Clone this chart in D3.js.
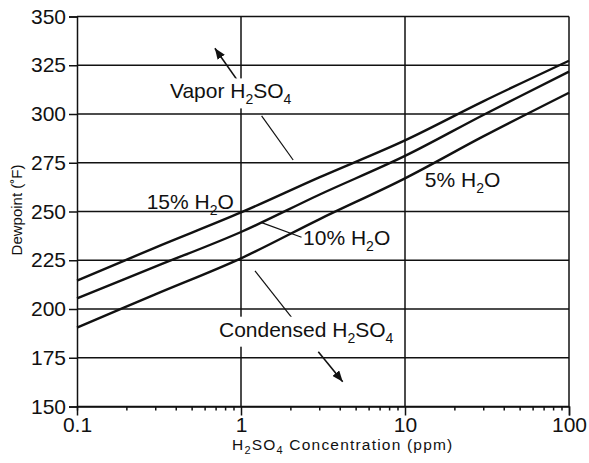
<!DOCTYPE html>
<html lang="en">
<head>
<meta charset="utf-8">
<title>Dewpoint vs H2SO4 concentration</title>
<script src="https://d3js.org/d3.v7.min.js"></script>
<style>
	body { margin: 0; background: #fff; }
	text { font-family: "Liberation Sans", Arial, sans-serif; fill: #111; }
</style>
</head>
<body>
<chart></chart>
<script>
// H2SO4 concentration (ppm) and dewpoint (F) for each water content
const concentration = [0.1, 0.3, 1, 3, 10, 30, 100];
const water15 = [214.5, 231.5, 249.5, 267.5, 286.5, 306.5, 327.3];
const water10 = [205.4, 221.7, 239.5, 258.6, 278.5, 299.5, 321.7];
const water5 = [190.4, 207.5, 226, 246, 267, 288.5, 310.9];

const xTicks = [0.1, 1, 10, 100];
const yTicks = [150, 175, 200, 225, 250, 275, 300, 325, 350];
const xGrid = [1, 10];

// annotation text, [piece, isSubscript], anchored at data coords (start, baseline)
const labels = [
	{ parts: [["Vapor H", 0], ["2", 1], ["SO", 0], ["4", 1]], at: [0.369, 308], bg: true },
	{ parts: [["15% H", 0], ["2", 1], ["O", 0]], at: [0.266, 251.1], bg: false },
	{ parts: [["10% H", 0], ["2", 1], ["O", 0]], at: [2.39, 232.8], bg: false },
	{ parts: [["5% H", 0], ["2", 1], ["O", 0]], at: [13.2, 262.7], bg: false },
	{ parts: [["Condensed H", 0], ["2", 1], ["SO", 0], ["4", 1]], at: [0.734, 185.8], bg: true }
];
const leaders = [
	[[1.336, 299], [2.08, 276.4]],
	[[1.336, 244.3], [2.34, 236.8]],
	[[1.217, 219.6], [2.08, 194.7]]
];
const arrows = [
	[[0.963, 316.6], [0.693, 333.7]],
	[[2.96, 178.1], [4.17, 162.7]]
];

var W = 589, H = 463;
var margin = { top: 16.5, right: 20, bottom: 56.5, left: 77 },
	width = W - margin.left - margin.right,
	height = H - margin.top - margin.bottom;

var svg = d3.select("chart").append("svg")
	.attr("width", W).attr("height", H)
	.style("display", "block");

svg.append("defs").append("marker")
	.attr("id", "head")
	.attr("viewBox", "0 0 10 8")
	.attr("refX", 10).attr("refY", 4)
	.attr("markerWidth", 11).attr("markerHeight", 9)
	.attr("markerUnits", "userSpaceOnUse")
	.attr("orient", "auto")
	.append("path").attr("d", "M0,0L10,4L0,8z").attr("fill", "#111");

var g = svg.append("g").attr("transform", "translate(" + margin.left + "," + margin.top + ")");

var x = d3.scaleLog().domain([0.1, 100]).range([0, width]);
var y = d3.scaleLinear().domain([150, 350]).range([height, 0]);

// grid
g.append("g").selectAll("line").data(yTicks).join("line")
	.attr("x1", 0).attr("x2", width)
	.attr("y1", d => y(d)).attr("y2", d => y(d))
	.attr("stroke", "#111").attr("stroke-width", 1.5);
g.append("g").selectAll("line").data(xGrid.concat([100])).join("line")
	.attr("x1", d => x(d)).attr("x2", d => x(d))
	.attr("y1", 0).attr("y2", height)
	.attr("stroke", "#111").attr("stroke-width", 1.5);

// axes
var yAxis = g.append("g")
	.call(d3.axisLeft(y).tickValues(yTicks).tickSize(8).tickPadding(3));
var xAxis = g.append("g").attr("transform", "translate(0," + height + ")")
	.call(d3.axisBottom(x).tickValues(xTicks).tickSize(9).tickPadding(2).tickFormat(d3.format("~g")));

var minor = [];
[0.1, 1, 10].forEach(function (d) { for (var k = 2; k < 10; k++) minor.push(d * k); });
g.append("g").attr("transform", "translate(0," + height + ")")
	.call(d3.axisBottom(x).tickValues(minor).tickSize(4).tickFormat(""))
	.call(a => a.select(".domain").remove());

g.selectAll(".domain").attr("stroke", "#111").attr("stroke-width", 1.5);
g.selectAll(".tick line").attr("stroke", "#111").attr("stroke-width", 1.5);
g.selectAll(".tick text").attr("font-size", 21).attr("font-family", "Liberation Sans, Arial, sans-serif").attr("fill", "#111");
xAxis.selectAll(".tick:first-of-type line").attr("y2", 4);

// curves
var line = d3.line()
	.x((d, i) => x(concentration[i]))
	.y(d => y(d))
	.curve(d3.curveCatmullRom);
g.append("g").selectAll("path").data([water15, water10, water5]).join("path")
	.attr("d", line)
	.attr("fill", "none").attr("stroke", "#111").attr("stroke-width", 2.4);

// leader lines and arrows
var seg = d3.line().x(d => x(d[0])).y(d => y(d[1]));
g.append("g").selectAll("path").data(leaders).join("path")
	.attr("d", seg).attr("stroke", "#111").attr("stroke-width", 1.2).attr("fill", "none");
g.append("g").selectAll("path").data(arrows).join("path")
	.attr("d", seg).attr("stroke", "#111").attr("stroke-width", 1.6).attr("fill", "none")
	.attr("marker-end", "url(#head)");

// labels
labels.forEach(function (l) {
	var grp = g.append("g");
	var t = grp.append("text")
		.attr("x", x(l.at[0])).attr("y", y(l.at[1]))
		.attr("font-size", 21);
	var shift = 0;
	l.parts.forEach(function (p) {
		var dy = p[1] ? 6 - shift : -shift;
		shift += dy;
		t.append("tspan").attr("dy", dy).attr("font-size", p[1] ? 14 : 21).text(p[0]);
	});
	if (l.bg) {
		var b = t.node().getBBox();
		grp.insert("rect", "text")
			.attr("x", b.x - 4).attr("y", b.y - 1)
			.attr("width", b.width + 8).attr("height", b.height + 2)
			.attr("fill", "#fff");
	}
});

// axis titles
svg.append("text")
	.attr("transform", "translate(22," + 210 + ") rotate(-90)")
	.attr("text-anchor", "middle").attr("font-size", 15)
	.text("Dewpoint (\u02DAF)");

var xt = svg.append("text")
	.attr("x", 232).attr("y", 450)
	.attr("font-size", 15.5).attr("letter-spacing", 1.2);
[["H", 0], ["2", 1], ["SO", 0], ["4", 1], [" Concentration (ppm)", 0]].reduce(function (shift, p) {
	var dy = p[1] ? 4 - shift : -shift;
	xt.append("tspan").attr("dy", dy).attr("font-size", p[1] ? 11 : 15.5).text(p[0]);
	return shift + dy;
}, 0);
</script>
</body>
</html>
